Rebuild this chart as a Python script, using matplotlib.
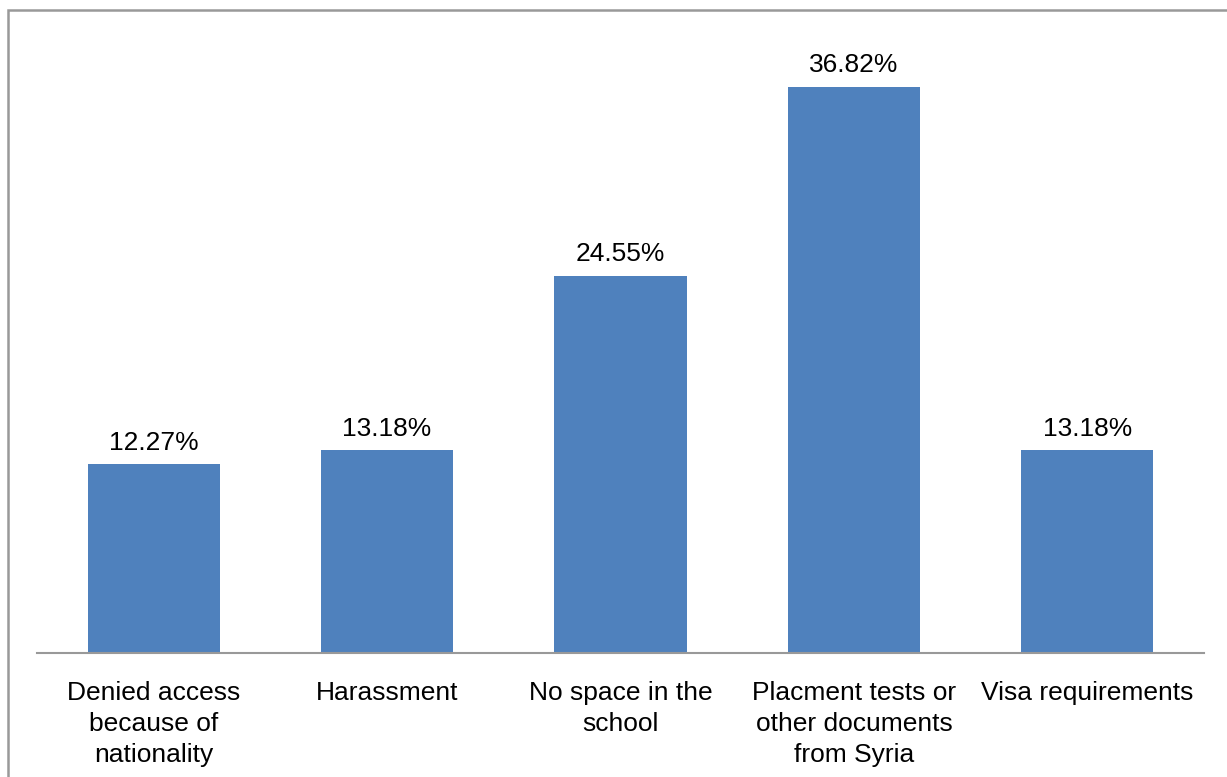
import matplotlib
matplotlib.use("Agg")
import matplotlib.pyplot as plt
from matplotlib.patches import Rectangle

categories = [
    "Denied access\nbecause of\nnationality",
    "Harassment",
    "No space in the\nschool",
    "Placment tests or\nother documents\nfrom Syria",
    "Visa requirements",
]
values = [12.27, 13.18, 24.55, 36.82, 13.18]
value_labels = ["12.27%", "13.18%", "24.55%", "36.82%", "13.18%"]

plt.rcParams["font.family"] = ["Liberation Sans", "DejaVu Sans"]

W, H = 1227, 777
fig = plt.figure(figsize=(W / 100, H / 100), dpi=100)
ax = fig.add_axes([37 / W, (H - 653) / H, (1204 - 37) / W, (653 - 38) / H])

x = list(range(len(categories)))
bars = ax.bar(x, values, width=0.566, color="#4F81BD", zorder=2)

for rect, lab in zip(bars, value_labels):
    ax.annotate(lab, (rect.get_x() + rect.get_width() / 2, rect.get_height()),
                xytext=(0, 7), textcoords="offset points",
                ha="center", va="bottom", fontsize=19, color="#000000")

ax.set_xlim(-0.5, len(categories) - 0.5)
ax.set_ylim(0, 40)
ax.set_xticks(x)
ax.set_xticklabels(categories, fontsize=19, linespacing=1.37, va="top")
ax.tick_params(axis="x", length=0, pad=20)
ax.set_yticks([])

for side in ("top", "right", "left"):
    ax.spines[side].set_visible(False)
ax.spines["bottom"].set_color("#999999")
ax.spines["bottom"].set_linewidth(1.5)

# outer frame of the chart area
fig.patches.append(Rectangle((8 / W, -0.1), 1.2, (H - 10) / H + 0.1,
                             transform=fig.transFigure, fill=False,
                             edgecolor="#999999", linewidth=1.8, zorder=0))

fig.savefig("out.png", dpi=100)
